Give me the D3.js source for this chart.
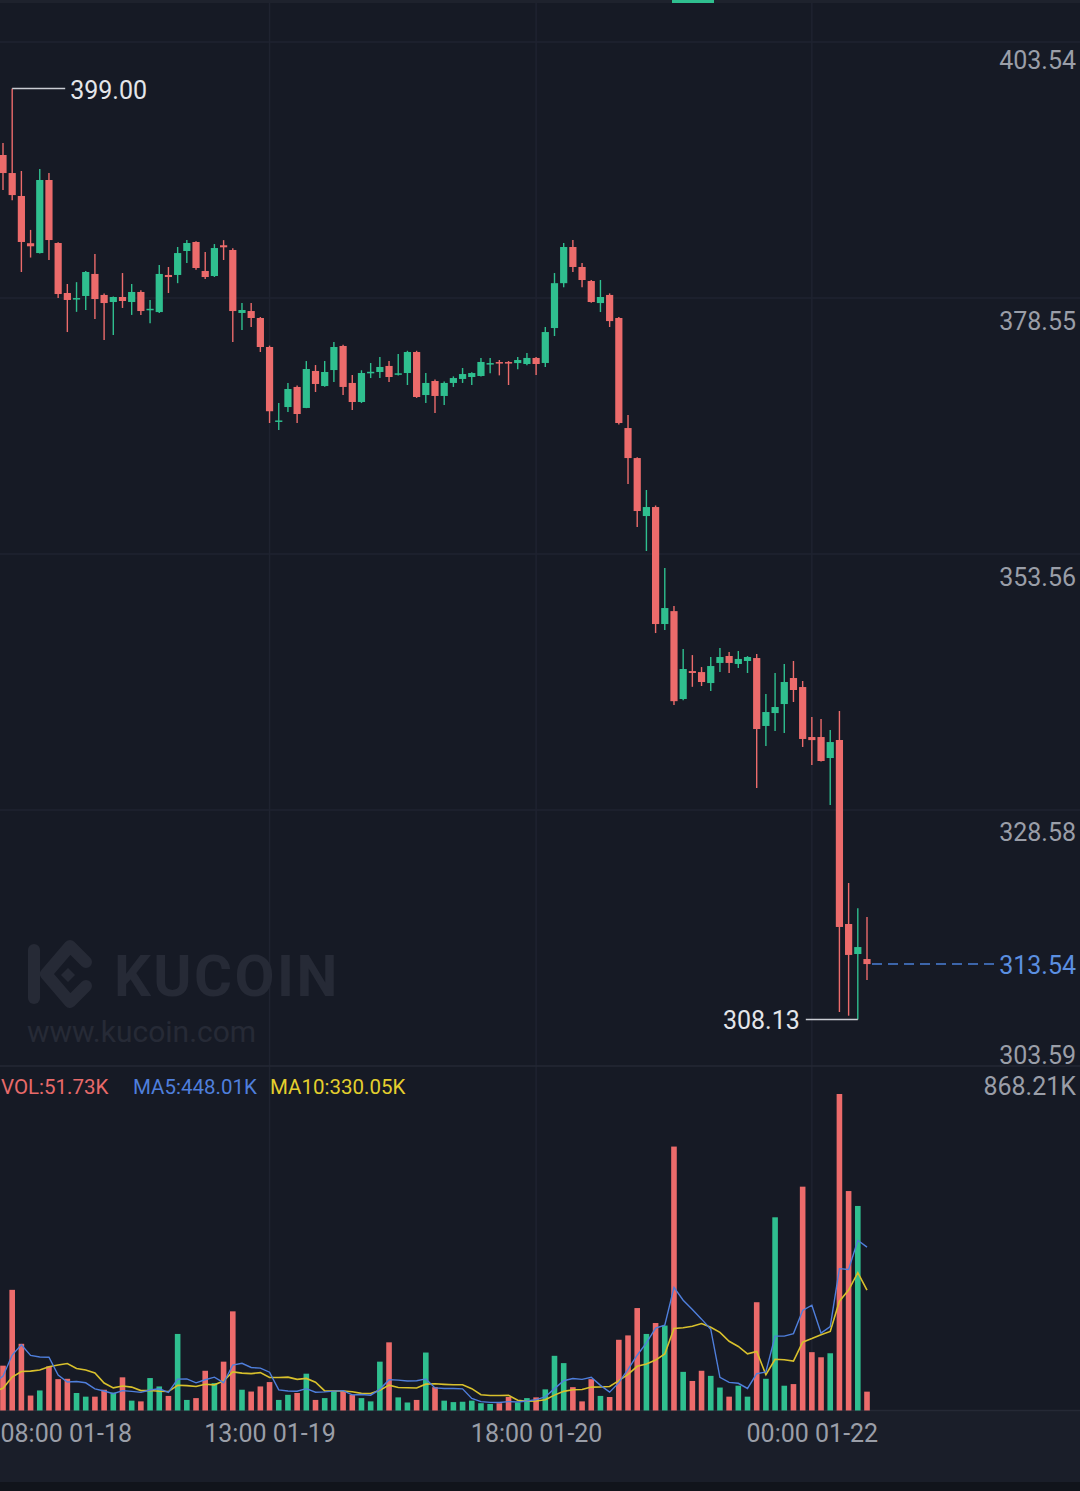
<!DOCTYPE html>
<html>
<head>
<meta charset="utf-8">
<script src="https://cdn.jsdelivr.net/npm/d3@7"></script>
<style>
  html, body { margin: 0; padding: 0; background: #161a25; }
  svg { display: block; font-family: Roboto, "Noto Sans", sans-serif; }
</style>
</head>
<body>
<svg id="chart" width="1080" height="1491"></svg>
<script>
// hourly candles, 08:00 01-18 .. 06:00 01-22
let open  = [392.51,390.75,388.51,383.90,382.94,390.07,383.92,379.04,378.40,378.75,
             380.90,378.85,378.16,378.65,378.16,379.14,377.40,377.18,380.80,380.80,
             383.14,384.02,381.19,380.70,383.70,383.24,377.09,377.28,376.60,373.77,
             366.50,367.91,369.87,367.82,371.43,369.96,371.52,373.87,370.26,368.40,
             371.20,371.33,371.92,371.10,371.23,373.28,369.08,370.45,368.99,370.26,
             370.65,370.84,370.94,372.10,372.30,372.30,372.20,372.11,372.70,372.21,
             375.62,380.00,383.53,381.58,380.21,378.06,378.85,376.60,365.86,362.93,
             357.27,358.15,346.73,347.99,339.41,342.14,342.04,340.97,342.93,343.61,
             342.83,343.12,343.41,336.78,338.04,338.92,341.46,340.58,335.70,335.70,
             333.65,335.41,317.45,314.52,314.03]
let high  = [393.68,399.00,390.95,385.20,391.14,390.75,384.00,379.92,380.10,381.20,
             382.85,379.00,378.70,380.99,379.92,379.30,378.36,381.77,381.58,383.53,
             384.21,384.10,383.04,383.82,384.20,383.40,378.06,378.06,376.70,373.90,
             368.30,370.26,370.00,372.40,372.01,372.40,374.26,374.00,371.04,371.50,
             372.21,372.79,372.40,373.08,373.40,373.40,371.23,370.60,370.40,370.90,
             371.72,371.30,372.70,372.70,372.50,372.40,372.80,373.18,372.80,375.72,
             380.99,383.92,384.21,381.97,380.30,380.31,379.00,376.70,367.13,363.00,
             359.81,358.30,352.20,348.49,344.29,343.70,342.53,343.51,344.39,344.00,
             344.10,343.60,343.80,339.90,341.95,342.83,343.12,341.17,337.65,337.46,
             336.39,338.24,321.45,318.99,318.13]
let low   = [389.09,388.10,381.09,382.50,382.90,382.26,378.55,375.23,377.20,377.38,
             376.50,374.45,374.94,377.58,376.90,376.90,376.10,377.10,379.04,380.00,
             381.97,381.30,380.41,380.60,382.26,374.26,375.43,375.72,373.28,366.35,
             365.67,367.42,366.35,367.80,369.38,369.90,370.35,369.08,367.62,368.30,
             370.74,370.74,370.35,371.00,370.06,368.80,368.30,367.33,368.11,369.87,
             370.26,370.06,370.90,371.20,371.00,370.06,371.60,372.00,371.04,371.82,
             374.84,379.60,381.09,379.60,378.10,377.18,375.72,366.20,360.40,356.20,
             353.86,345.85,346.14,338.83,339.30,340.60,340.68,340.19,342.04,341.95,
             342.44,341.95,330.72,334.82,336.29,336.09,339.12,334.73,332.96,333.30,
             329.07,308.86,308.50,308.13,311.98]
let close = [390.75,388.60,384.02,383.60,390.07,384.21,378.94,378.36,378.55,381.09,
             378.45,378.06,378.65,378.26,379.14,377.28,377.50,380.90,380.60,382.94,
             383.92,381.48,380.60,383.43,383.50,377.28,377.38,376.60,373.77,367.50,
             366.60,369.67,367.23,371.62,370.16,371.33,373.77,369.87,368.40,371.23,
             371.35,371.82,370.84,371.20,373.28,368.89,370.26,368.99,370.26,370.74,
             371.13,371.23,372.31,372.20,372.20,372.20,372.50,372.70,372.11,375.23,
             380.00,383.53,381.58,380.31,378.16,378.65,376.30,366.35,362.93,357.76,
             358.15,346.73,348.29,339.20,342.34,341.95,341.07,342.63,343.51,342.93,
             343.32,343.51,336.48,338.14,338.63,341.07,340.29,335.51,335.40,333.36,
             335.21,317.16,314.43,315.20,313.54]
// colour flag from the screenshot (1 = rising / green)
let rising = [0,0,0,0,1,0,0,0,1,1, 0,0,1,0,1,0,1,1,0,1, 1,0,0,1,0,0,1,0,0,0,
              1,1,0,1,0,1,1,0,0,1, 1,1,0,1,1,0,1,0,1,1, 1,1,1,1,0,0,1,1,0,1,
              1,1,0,0,0,1,0,0,0,0, 1,0,1,0,1,0,0,1,1,0, 1,1,0,1,1,1,0,0,0,0,
              1,0,0,1,0]
// volume in K
let volume = [123,331,183,41,55,121,86,87,48,38, 38,57,49,91,27,25,89,66,40,210,
              29,34,109,75,134,272,57,52,66,78, 29,43,48,101,29,34,54,54,43,34,
              25,134,187,36,22,29,159,64,27,23, 24,27,20,18,20,37,22,34,36,58,
              150,130,64,25,86,40,37,194,206,281, 210,240,233,724,106,81,109,95,63,38,
              68,38,297,87,530,68,72.46,614,160,146, 157,868.21,602,561.1,51.73]
// candles before the visible window, only feed the moving averages
let priorVolume = [22,25,29,30,25,30,42,43,186,77]

let priceTicks = [303.59, 328.58, 353.56, 378.55, 403.54]
let timeTickIndex = [0, 29, 58, 88]
let timeTickLabels = ['08:00 01-18', '13:00 01-19', '18:00 01-20', '00:00 01-22']

let W = 1080, H = 1491
let upColor = '#2fbf8f', downColor = '#ec6b6b'
let gridColor = '#1f2330'
let priceTop = 3, priceBottom = 1066, volBottom = 1410.5

let svg = d3.select('#chart')

let x = d3.scaleLinear().domain([0, open.length - 1]).range([3, 867])
let y = d3.scaleLinear().domain([303.59, 403.54]).range([priceBottom, 42])
let vy = d3.scaleLinear().domain([0, d3.max(volume)]).range([volBottom, 1094])

let candles = open.map((o, i) => ({
  i: i, o: o, h: high[i], l: low[i], c: close[i], v: volume[i], up: rising[i] === 1
}))

// backgrounds
svg.append('rect').attr('width', W).attr('height', H).attr('fill', '#161a25')
svg.append('rect').attr('y', volBottom).attr('width', W).attr('height', 72).attr('fill', '#1a1e29')
svg.append('rect').attr('y', 1482).attr('width', W).attr('height', 9).attr('fill', '#11141b')
svg.append('rect').attr('width', W).attr('height', 3).attr('fill', '#1e222d')
svg.append('rect').attr('x', 672).attr('width', 42).attr('height', 3).attr('fill', upColor)

// grid
svg.append('g').selectAll('line').data(priceTicks.slice(1)).join('line')
  .attr('x1', 0).attr('x2', W)
  .attr('y1', d => y(d)).attr('y2', d => y(d))
  .attr('stroke', gridColor).attr('stroke-width', 1.5)
svg.append('g').selectAll('line').data(timeTickIndex.slice(1)).join('line')
  .attr('x1', d => x(d)).attr('x2', d => x(d))
  .attr('y1', priceTop).attr('y2', volBottom)
  .attr('stroke', gridColor).attr('stroke-width', 1.5)
svg.append('line').attr('x1', 0).attr('x2', W).attr('y1', priceBottom).attr('y2', priceBottom)
  .attr('stroke', '#252935').attr('stroke-width', 1.5)
svg.append('line').attr('x1', 0).attr('x2', W).attr('y1', volBottom).attr('y2', volBottom)
  .attr('stroke', '#252935').attr('stroke-width', 1.5)

// watermark
let wm = svg.append('g').attr('fill', 'none').attr('stroke', '#262a36')
  .attr('stroke-width', 12).attr('stroke-linecap', 'round').attr('stroke-linejoin', 'round')
wm.append('line').attr('x1', 34).attr('x2', 34).attr('y1', 950).attr('y2', 998)
wm.append('polyline').attr('points', '86,962 70,946 46,974 70,1002 86,986')
svg.append('path').attr('d', 'M68,968 L75,975 L68,982 L61,975 Z').attr('fill', '#262a36')
svg.append('text').attr('x', 114).attr('y', 996).text('KUCOIN')
  .attr('fill', '#262a36').attr('font-size', 58).attr('font-weight', 700)
  .attr('letter-spacing', 2.5)
svg.append('text').attr('x', 27).attr('y', 1042).text('www.kucoin.com')
  .attr('fill', '#262a36').attr('font-size', 30)

// candles
let plot = svg.append('g')
plot.selectAll('line.wick').data(candles).join('line').attr('class', 'wick')
  .attr('x1', d => x(d.i)).attr('x2', d => x(d.i))
  .attr('y1', d => y(d.h)).attr('y2', d => y(d.l))
  .attr('stroke', d => d.up ? upColor : downColor).attr('stroke-width', 1.4)
plot.selectAll('rect.body').data(candles).join('rect').attr('class', 'body')
  .attr('x', d => x(d.i) - 3.6).attr('width', 7.2)
  .attr('y', d => y(Math.max(d.o, d.c)))
  .attr('height', d => Math.max(1.5, Math.abs(y(d.o) - y(d.c))))
  .attr('fill', d => d.up ? upColor : downColor)

// volume bars
svg.append('g').selectAll('rect').data(candles).join('rect')
  .attr('x', d => x(d.i) - 2.8).attr('width', 5.6)
  .attr('y', d => vy(d.v)).attr('height', d => volBottom - vy(d.v))
  .attr('fill', d => d.up ? upColor : downColor)

// moving averages of volume
let allVol = priorVolume.concat(volume)
function ma(n) {
  let out = []
  for (let i = -1; i < volume.length; i++) {
    let k = i + priorVolume.length
    if (k - n + 1 < 0) continue
    out.push({ i: i, v: d3.mean(allVol.slice(k - n + 1, k + 1)) })
  }
  return out
}
let ma5 = ma(5), ma10 = ma(10)
svg.append('clipPath').attr('id', 'volclip').append('rect')
  .attr('x', 0).attr('y', priceBottom).attr('width', W).attr('height', volBottom - priceBottom)
let line = d3.line().x(d => x(d.i)).y(d => vy(d.v))
let maG = svg.append('g').attr('clip-path', 'url(#volclip)').attr('fill', 'none')
maG.append('path').datum(ma10).attr('d', line).attr('stroke', '#d8c02c').attr('stroke-width', 1.6)
maG.append('path').datum(ma5).attr('d', line).attr('stroke', '#4f7fdc').attr('stroke-width', 1.4)

// price axis
let priceAxis = svg.append('g').attr('transform', 'translate(1076,0)')
  .call(d3.axisLeft(y).tickValues(priceTicks).tickSize(0).tickPadding(0).tickFormat(d3.format('.2f')))
priceAxis.select('.domain').remove()
priceAxis.selectAll('text').attr('fill', '#9a9ea8').attr('font-size', 25)
  .attr('font-family', 'Roboto, sans-serif')
  .attr('dy', d => d === priceTicks[0] ? -3 : (d === priceTicks[priceTicks.length - 1] ? 26 : 31))

// volume max label
svg.append('text').attr('x', 1076).attr('y', 1095).attr('text-anchor', 'end')
  .attr('fill', '#9a9ea8').attr('font-size', 25).text(d3.format('.2f')(d3.max(volume)) + 'K')

// time axis
let timeAxis = svg.append('g').attr('transform', `translate(0,${volBottom})`)
  .call(d3.axisBottom(x).tickValues(timeTickIndex).tickSize(0)
    .tickFormat((d, i) => timeTickLabels[i]))
timeAxis.select('.domain').remove()
timeAxis.selectAll('text').attr('fill', '#9a9ea8').attr('font-size', 25)
  .attr('font-family', 'Roboto, sans-serif')
  .attr('y', 31).attr('dy', 0)
  .attr('text-anchor', (d, i) => i === 0 ? 'start' : 'middle')
  .attr('x', (d, i) => i === 0 ? -x(d) : 0)

// highest / lowest markers
let hi = candles[d3.maxIndex(high)]
let lo = candles[d3.minIndex(low)]
svg.append('line').attr('x1', x(hi.i)).attr('x2', x(hi.i) + 53)
  .attr('y1', y(hi.h)).attr('y2', y(hi.h)).attr('stroke', '#c9ccd3').attr('stroke-width', 1.5)
svg.append('text').attr('x', x(hi.i) + 58).attr('y', y(hi.h) + 10)
  .attr('fill', '#e4e6ea').attr('font-size', 25).text(d3.format('.2f')(hi.h))
svg.append('line').attr('x1', x(lo.i) - 52).attr('x2', x(lo.i))
  .attr('y1', y(lo.l)).attr('y2', y(lo.l)).attr('stroke', '#c9ccd3').attr('stroke-width', 1.5)
svg.append('text').attr('x', x(lo.i) - 58).attr('y', y(lo.l) + 10).attr('text-anchor', 'end')
  .attr('fill', '#e4e6ea').attr('font-size', 25).text(d3.format('.2f')(lo.l))

// last price
let last = candles[candles.length - 1]
svg.append('line').attr('x1', x(last.i) + 5).attr('x2', 996)
  .attr('y1', y(last.c)).attr('y2', y(last.c))
  .attr('stroke', '#4a7fd6').attr('stroke-width', 1.5).attr('stroke-dasharray', '10,6')
svg.append('text').attr('x', 1076).attr('y', y(last.c) + 10).attr('text-anchor', 'end')
  .attr('fill', '#5b8fe0').attr('font-size', 25).text(d3.format('.2f')(last.c))

// volume legend
let fmtK = v => d3.format('.2f')(v) + 'K'
let legend = [
  { x: 1, text: 'VOL:' + fmtK(last.v), color: '#e86a6a' },
  { x: 133, text: 'MA5:' + fmtK(ma5[ma5.length - 1].v), color: '#4f7fdc' },
  { x: 270, text: 'MA10:' + fmtK(ma10[ma10.length - 1].v), color: '#e4cf2e' }
]
svg.append('g').selectAll('text').data(legend).join('text')
  .attr('x', d => d.x).attr('y', 1094).attr('font-size', 20.5)
  .attr('fill', d => d.color).text(d => d.text)
</script>
</body>
</html>
